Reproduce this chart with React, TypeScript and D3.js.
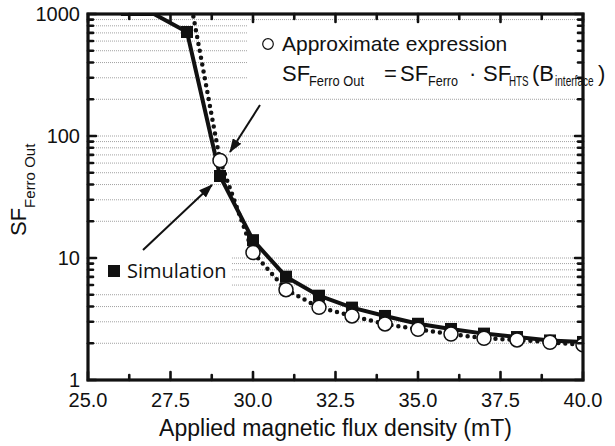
import React from "react";
import * as d3 from "d3";

// ---- data ----
const simX = [26, 27, 28, 29, 30, 31, 32, 33, 34, 35, 36, 37, 38, 39, 40];
const simY = [1000, 1000, 712, 47, 14.0, 7.03, 4.91, 3.92, 3.35, 2.89, 2.62, 2.40, 2.25, 2.11, 2.05];
const approxX = [28, 29, 30, 31, 32, 33, 34, 35, 36, 37, 38, 39, 40];
const approxY = [1830, 63, 11.1, 5.5, 3.94, 3.35, 2.88, 2.6, 2.38, 2.2, 2.13, 2.04, 1.94];
const xMajorTicks = [25, 27.5, 30, 32.5, 35, 37.5, 40];
const xMinorTicks = [26.25, 28.75, 31.25, 33.75, 36.25, 38.75];
const yMajorTicks = [1, 10, 100, 1000];
const yMinorTicks = [2, 3, 4, 5, 6, 7, 8, 9, 20, 30, 40, 50, 60, 70, 80, 90, 200, 300, 400, 500, 600, 700, 800, 900];
const xTitle = "Applied magnetic flux density (mT)";
const simLabel = "Simulation";
const approxLabel = "Approximate expression";

const W = 615, H = 446;
const L = 88, R = 583, T = 14, B = 380;

export default function App() {
  const x = d3.scaleLinear().domain([25, 40]).range([L, R]);
  const y = d3.scaleLog().domain([1, 1000]).range([B, T]);
  const line = d3.line<[number, number]>().x(d => x(d[0])).y(d => y(d[1]));
  const simPts: [number, number][] = simX.map((v, i) => [v, simY[i]]);
  const apPts: [number, number][] = approxX.map((v, i) => [v, approxY[i]]);
  const inDomain = (v: number) => v < 1000;
  const font = "Liberation Sans, Arial, Helvetica, sans-serif";
  const majLen = 8, minLen = 5;
  const fy = 81, sy = 86;

  return (
    <svg width={W} height={H} style={{ position: "absolute", left: 0, top: 0, background: "#fff", fontFamily: font }}>
      <defs>
        <clipPath id="plot">
          <rect x={L} y={T} width={R - L} height={B - T} />
        </clipPath>
        <marker id="arr" viewBox="0 0 14 10" refX="13" refY="5" markerWidth="14" markerHeight="10" markerUnits="userSpaceOnUse" orient="auto">
          <path d="M0,0 L14,5 L0,10 Z" fill="#111" />
        </marker>
      </defs>
      <rect x={0} y={0} width={W} height={H} fill="#fff" />
      {/* grid */}
      {[...yMinorTicks, 10, 100].map(v => (
        <line key={"g" + v} x1={L} x2={R} y1={y(v)} y2={y(v)} stroke="#8a8a8a" strokeWidth={0.8} strokeDasharray="1 1" />
      ))}
      {/* white boxes behind annotations */}
      <rect x={247} y={23} width={R - 247} height={73} fill="#fff" />
      <rect x={92} y={249} width={140} height={40} fill="#fff" />
      {/* data */}
      <g clipPath="url(#plot)">
        <path d={line(simPts) || ""} fill="none" stroke="#111" strokeWidth={4} strokeLinejoin="round" />
        <path d={line(apPts) || ""} fill="none" stroke="#111" strokeWidth={4.5} strokeDasharray="0 7" strokeLinecap="round" />
        {simPts.filter(p => inDomain(p[1])).map(p => (
          <rect key={"s" + p[0]} x={x(p[0]) - 6} y={y(p[1]) - 6} width={12} height={12} fill="#111" />
        ))}
        {apPts.filter(p => inDomain(p[1])).map(p => (
          <circle key={"c" + p[0]} cx={x(p[0])} cy={y(p[1])} r={7} fill="#fff" stroke="#111" strokeWidth={1.5} />
        ))}
      </g>
      {/* ticks */}
      <g stroke="#111" strokeWidth={2.6} strokeLinecap="round">
        {xMajorTicks.map(v => (
          <g key={"xm" + v}>
            <line x1={x(v)} x2={x(v)} y1={B} y2={B - majLen} />
            <line x1={x(v)} x2={x(v)} y1={T} y2={T + majLen} />
          </g>
        ))}
        {xMinorTicks.map(v => (
          <g key={"xn" + v}>
            <line x1={x(v)} x2={x(v)} y1={B} y2={B - minLen} />
            <line x1={x(v)} x2={x(v)} y1={T} y2={T + minLen} />
          </g>
        ))}
        {yMajorTicks.map(v => (
          <g key={"ym" + v}>
            <line x1={L} x2={L + majLen} y1={y(v)} y2={y(v)} />
            <line x1={R} x2={R - majLen} y1={y(v)} y2={y(v)} />
          </g>
        ))}
        {yMinorTicks.map(v => (
          <g key={"yn" + v}>
            <line x1={L} x2={L + minLen} y1={y(v)} y2={y(v)} />
            <line x1={R} x2={R - minLen} y1={y(v)} y2={y(v)} />
          </g>
        ))}
      </g>
      <rect x={L} y={T} width={R - L} height={B - T} fill="none" stroke="#111" strokeWidth={3.2} />
      {/* tick labels */}
      {xMajorTicks.map(v => (
        <text key={"xl" + v} x={x(v)} y={407} textAnchor="middle" fontSize={20} fill="#111">{d3.format(".1f")(v)}</text>
      ))}
      {yMajorTicks.map(v => (
        <text key={"yl" + v} x={80} y={y(v) + 7} textAnchor="end" fontSize={20} fill="#111">{v}</text>
      ))}
      {/* axis titles */}
      <text x={(L + R) / 2} y={436} textAnchor="middle" fontSize={23} fill="#111">{xTitle}</text>
      <text transform="translate(26,236) rotate(-90)" fontSize={22} fill="#111">
        SF<tspan fontSize={15} dy={9}>Ferro Out</tspan>
      </text>
      {/* annotations */}
      <circle cx={268} cy={44} r={5.3} fill="#fff" stroke="#111" strokeWidth={1.2} />
      <text x={282} y={51} fontSize={21} fill="#111">{approxLabel}</text>
      <g fill="#111">
        <text x={282} y={fy} fontSize={22}>SF</text>
        <text transform={`translate(309,${sy}) scale(0.92,1)`} fontSize={14}>Ferro Out</text>
        <text x={384} y={fy} fontSize={22}>=</text>
        <text x={400} y={fy} fontSize={22}>SF</text>
        <text transform={`translate(428,${sy}) scale(0.9,1)`} fontSize={14}>Ferro</text>
        <text x={469} y={fy} fontSize={22}>·</text>
        <text x={483} y={fy} fontSize={22}>SF</text>
        <text transform={`translate(509,${sy}) scale(0.7,1)`} fontSize={14}>HTS</text>
        <text x={532} y={fy} fontSize={22}>(B</text>
        <text transform={`translate(555,${sy}) scale(0.72,1)`} fontSize={14}>interface</text>
        <text x={598} y={fy} fontSize={22}>)</text>
      </g>
      <rect x={108} y={265} width={12} height={12} fill="#111" />
      <text x={127} y={278} fontSize={20} fill="#111" style={{ fontFamily: "Open Sans, sans-serif" }}>{simLabel}</text>
      {/* arrows */}
      <line x1={260} y1={105} x2={230} y2={152} stroke="#111" strokeWidth={2} markerEnd="url(#arr)" />
      <line x1={143} y1={250} x2={212} y2={185} stroke="#111" strokeWidth={2} markerEnd="url(#arr)" />
    </svg>
  );
}
